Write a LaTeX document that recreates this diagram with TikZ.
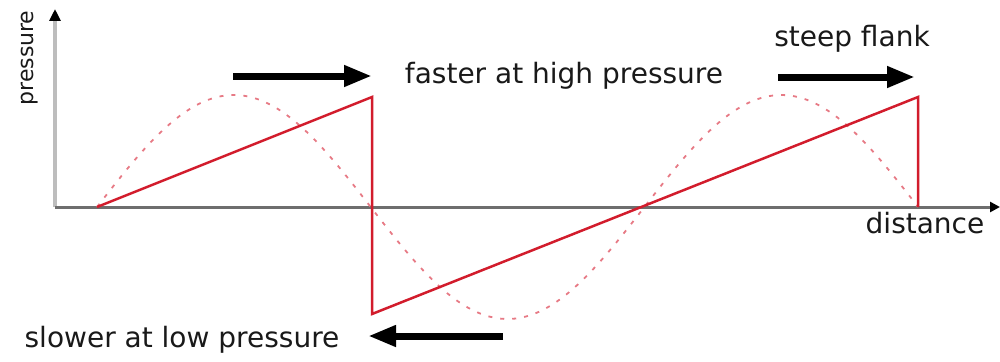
\documentclass[tikz,border=0pt]{standalone}
\usepackage{fontspec}
\setmainfont{DejaVu Sans}
\usetikzlibrary{arrows.meta}
\definecolor{wavered}{HTML}{D21C2C}
\definecolor{sinered}{HTML}{E77A85}
\definecolor{axisgray}{HTML}{6E6E6E}
\definecolor{yaxisgray}{HTML}{BDBDBD}
\begin{document}
\begin{tikzpicture}[x=1pt,y=-1pt,
  lbl/.style={font=\fontsize{28}{30}\selectfont, text=black!90, inner sep=0pt, anchor=base},
  fatarrow/.style={line width=7pt, draw=black, -{Triangle[length=28pt,width=20pt]}},
  saw/.style={draw=wavered, line width=2.5pt, line join=miter},
  sine/.style={draw=sinered, line width=1.8pt, dash pattern=on 4pt off 8pt},
  xaxis/.style={draw=axisgray, line width=3pt, -{Triangle[length=10pt,width=10pt,color=black]}},
  yaxis/.style={draw=yaxisgray, line width=4pt, -{Triangle[length=12pt,width=11pt,color=black]}}]
\useasboundingbox (0,0) rectangle (1000,361);

% axes
\coordinate (O) at (55,207);
\coordinate (Ytop) at (55,9);
\coordinate (Xend) at (1000,207);
\draw[yaxis] (O) -- (Ytop);
\draw[xaxis] (O) -- (Xend);

% dotted sine
\draw[sine] plot[domain=97:918, samples=200, smooth] (\x, {207 - 112*sin(0.65765*(\x-97))});

% sawtooth
\coordinate (s0) at (97,207);
\coordinate (s1) at (372,97);
\coordinate (s2) at (372,314);
\coordinate (s3) at (918,97);
\coordinate (s4) at (918,207);
\draw[saw] (s0) -- (s1) -- (s2) -- (s3) -- (s4);

% arrows
\coordinate (a1s) at (233,76);
\coordinate (a1e) at (372,76);
\coordinate (a2s) at (778,77);
\coordinate (a2e) at (915,77);
\coordinate (a3s) at (503,336);
\coordinate (a3e) at (368,336);
\draw[fatarrow] (a1s) -- (a1e);
\draw[fatarrow] (a2s) -- (a2e);
\draw[fatarrow] (a3s) -- (a3e);

% labels
\node[lbl] (fast) at (564,83) {faster at high pressure};
\node[lbl] (steep) at (852,47) {steep flank};
\node[lbl] (slow) at (182,347) {slower at low pressure};
\node[lbl] (dist) at (925,233) {distance};
\node[lbl, rotate=90, font=\fontsize{22}{24}\selectfont] (pres) at (33,58) {pressure};
\end{tikzpicture}
\end{document}
